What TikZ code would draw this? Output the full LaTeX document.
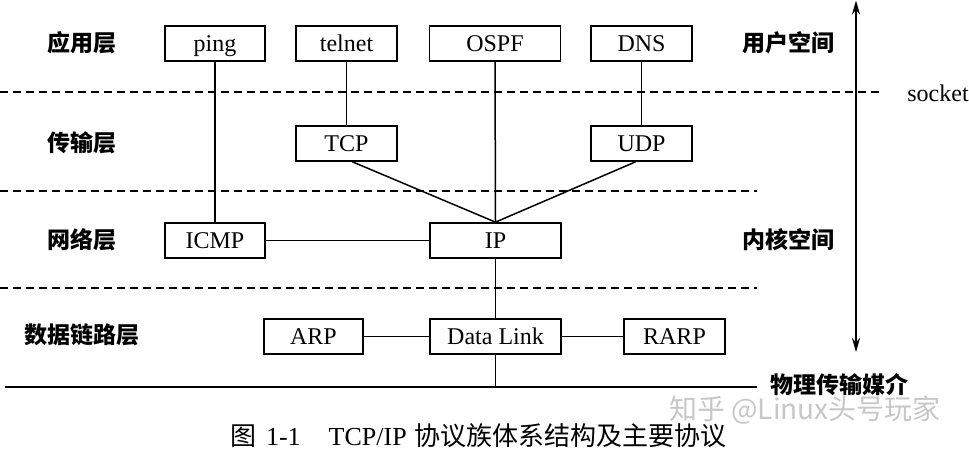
\documentclass[tikz,border=0pt]{standalone}
\usepackage{fontspec}
\setmainfont{Liberation Serif}
\newfontfamily\cjk{Noto Sans CJK SC}
\usetikzlibrary{arrows.meta}
\tikzset{
  proto/.style={draw, line width=0.85pt, inner sep=0pt, minimum height=17.5pt,
    text height=8pt, text depth=0pt,
    font=\fontsize{12}{12}\selectfont},
  layerlbl/.style={font=\cjk\bfseries\fontsize{11.5}{12}\selectfont},
  link/.style={line width=0.75pt},
  sep/.style={line width=0.8pt, dash pattern=on 4pt off 2.5pt},
}
\begin{document}
\begin{tikzpicture}[x=0.5pt, y=-0.5pt]
\useasboundingbox (0,0) rectangle (969,449);
% layer labels
\node[layerlbl] (lapp) at (82,43) {应用层};
\node[layerlbl] (ltr) at (82,143) {传输层};
\node[layerlbl] (lnet) at (82,240) {网络层};
\node[layerlbl] (ldl) at (82,335) {数据链路层};
\node[layerlbl] (luser) at (788,43) {用户空间};
\node[layerlbl] (lkern) at (788,240) {内核空间};
\node[layerlbl] (lphy) at (839,385) {物理传输媒介};
\node[font=\fontsize{12}{12}\selectfont] (sock) at (938,93) {socket};
% separators
\coordinate (s1l) at (0,92); \coordinate (s1r) at (883,92);
\coordinate (s2l) at (0,191); \coordinate (s2r) at (757,191);
\coordinate (s3l) at (0,288); \coordinate (s3r) at (757,288);
\draw[sep] (s1l) -- (s1r);
\draw[sep] (s2l) -- (s2r);
\draw[sep] (s3l) -- (s3r);
% boxes
\node[proto, fill=white, minimum width=50pt] (ping) at (215,43.5) {ping};
\node[proto, fill=white, minimum width=50.5pt] (telnet) at (346.5,43.5) {telnet};
\node[proto, fill=white, minimum width=65.5pt] (ospf) at (495,43.5) {OSPF};
\node[proto, fill=white, minimum width=50.5pt] (dns) at (641.5,43.5) {DNS};
\node[proto, fill=white, minimum width=50.5pt] (tcp) at (346.5,143.5) {TCP};
\node[proto, fill=white, minimum width=50.5pt] (udp) at (641.5,143.5) {UDP};
\node[proto, fill=white, minimum width=50pt] (icmp) at (215,240.5) {ICMP};
\node[proto, fill=white, minimum width=65.5pt] (ip) at (495.5,240.5) {IP};
\node[proto, fill=white, minimum width=49.5pt] (arp) at (313.5,336.5) {ARP};
\node[proto, fill=white, minimum width=65.5pt] (dl) at (495.5,336.5) {Data Link};
\node[proto, fill=white, minimum width=50.5pt] (rarp) at (674.5,336.5) {RARP};
% connectors
\draw[link] (ping.south) -- (icmp.north);
\draw[link] (telnet.south) -- (tcp.north);
\draw[link] (dns.south) -- (udp.north);
\draw[link] (ospf.south) -- (ip.north);
\draw[link] ([xshift=3pt]tcp.south) -- (ip.north);
\draw[link] ([xshift=-3pt]udp.south) -- (ip.north);
\draw[link] (icmp.east) -- (ip.west);
\draw[link] (ip.south) -- (dl.north);
\draw[link] (arp.east) -- (dl.west);
\draw[link] (dl.east) -- (rarp.west);
% physical medium
\coordinate (phyl) at (5,387); \coordinate (phyr) at (757,387);
\draw[line width=0.85pt] (phyl) -- (phyr);
\draw[link] (dl.south) -- (dl.south |- phyl);
% user/kernel arrow
\coordinate (atop) at (856,0.5); \coordinate (abot) at (856,352);
\draw[line width=0.85pt, {Stealth[length=7pt,width=4pt]}-{Stealth[length=7pt,width=4pt]}] (atop) -- (abot);
% watermark
\node[font=\cjk\fontsize{14}{14}\selectfont, text=black!22, anchor=west] (wm) at (662,410) {知乎 @Linux头号玩家};
% caption
\node[anchor=west, font=\fontsize{13}{13}\selectfont] (cap) at (223,436)
  {{\cjk 图}\hspace{5pt}1-1\hspace{14pt}TCP/IP\hspace{4pt}{\cjk 协议族体系结构及主要协议}};
\end{tikzpicture}
\end{document}
